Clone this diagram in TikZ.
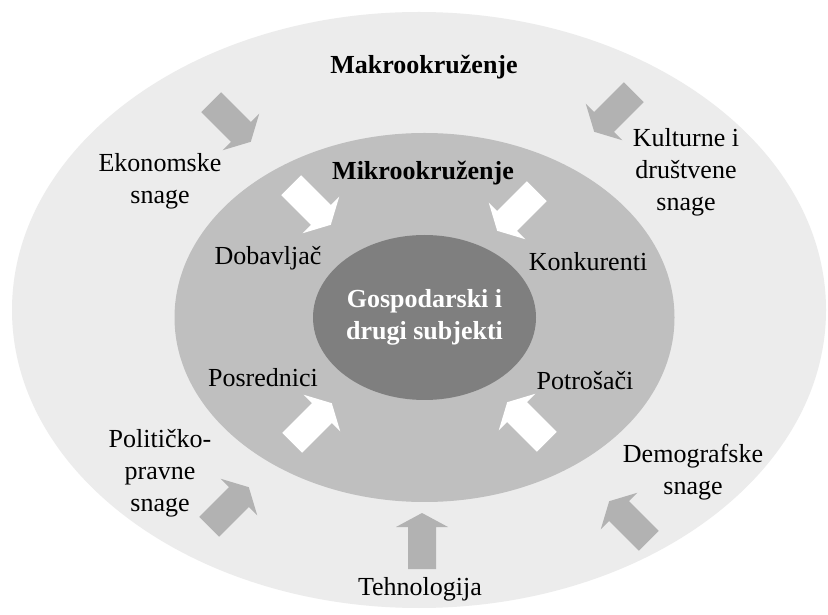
\documentclass[tikz,border=0pt]{standalone}
\usepackage{fontspec}
\setmainfont{Liberation Serif}
\usetikzlibrary{shapes.geometric}
\definecolor{macrogray}{HTML}{ECECEC}
\definecolor{microgray}{HTML}{BFBFBF}
\definecolor{coregray}{HTML}{7F7F7F}
\definecolor{forcegray}{HTML}{B2B2B2}
\tikzset{
  label text/.style={font=\fontsize{18.5}{22.8}\selectfont, align=center, inner sep=0pt},
  title text/.style={label text, font=\fontsize{18.5}{22.8}\selectfont\bfseries},
  zone/.style={ellipse, inner sep=0pt},
  pics/force/.style={code={
    \fill[#1] (-28,-14) -- (14,-14) -- (14,-26) -- (28,0) -- (14,26) -- (14,14) -- (-28,14) -- cycle;
  }}
}
\begin{document}
\begin{tikzpicture}[x=0.025cm, y=0.025cm]
    \useasboundingbox (0,0) rectangle (828,-615);
    \fill[white] (0,0) rectangle (828,-615);

    \node[zone, fill=macrogray, minimum width=814*0.025cm, minimum height=596*0.025cm] (macro) at (419,-310) {};
    \node[zone, fill=microgray, minimum width=500*0.025cm, minimum height=369*0.025cm] (micro) at (424.5,-317.5) {};
    \node[zone, fill=coregray, minimum width=223*0.025cm, minimum height=165*0.025cm,
          title text, text=white] (core) at (424.5,-317.5) {Gospodarski i\\drugi subjekti};

    \node[title text] (macrotitle) at (424,-67) {Makrookruženje};
    \node[title text] (microtitle) at (423,-173) {Mikrookruženje};

    \node[label text] (ekonomske) at (160,-181) {Ekonomske\\snage};
    \node[label text] (kulturne) at (686,-172) {Kulturne i\\društvene\\snage};
    \node[label text] (politicko) at (160,-473) {Političko-\\pravne\\snage};
    \node[label text] (demografske) at (693,-472) {Demografske\\snage};
    \node[label text] (tehnologija) at (420,-589) {Tehnologija};

    \node[label text] (dobavljac) at (268,-258) {Dobavljač};
    \node[label text] (konkurenti) at (588,-262) {Konkurenti};
    \node[label text] (posrednici) at (263,-378) {Posrednici};
    \node[label text] (potrosaci) at (585,-381) {Potrošači};

    \path (231,-122) pic[rotate=-45] {force=forcegray};
    \path (614,-112) pic[rotate=-135] {force=forcegray};
    \path (229,-507) pic[rotate=45] {force=forcegray};
    \path (422,-541) pic[rotate=90] {force=forcegray};
    \path (629,-521) pic[rotate=135] {force=forcegray};

    \path (311,-205) pic[rotate=-45] {force=white};
    \path (517,-211) pic[rotate=-135] {force=white};
    \path (312,-423) pic[rotate=45] {force=white};
    \path (527,-422) pic[rotate=135] {force=white};
\end{tikzpicture}
\end{document}
